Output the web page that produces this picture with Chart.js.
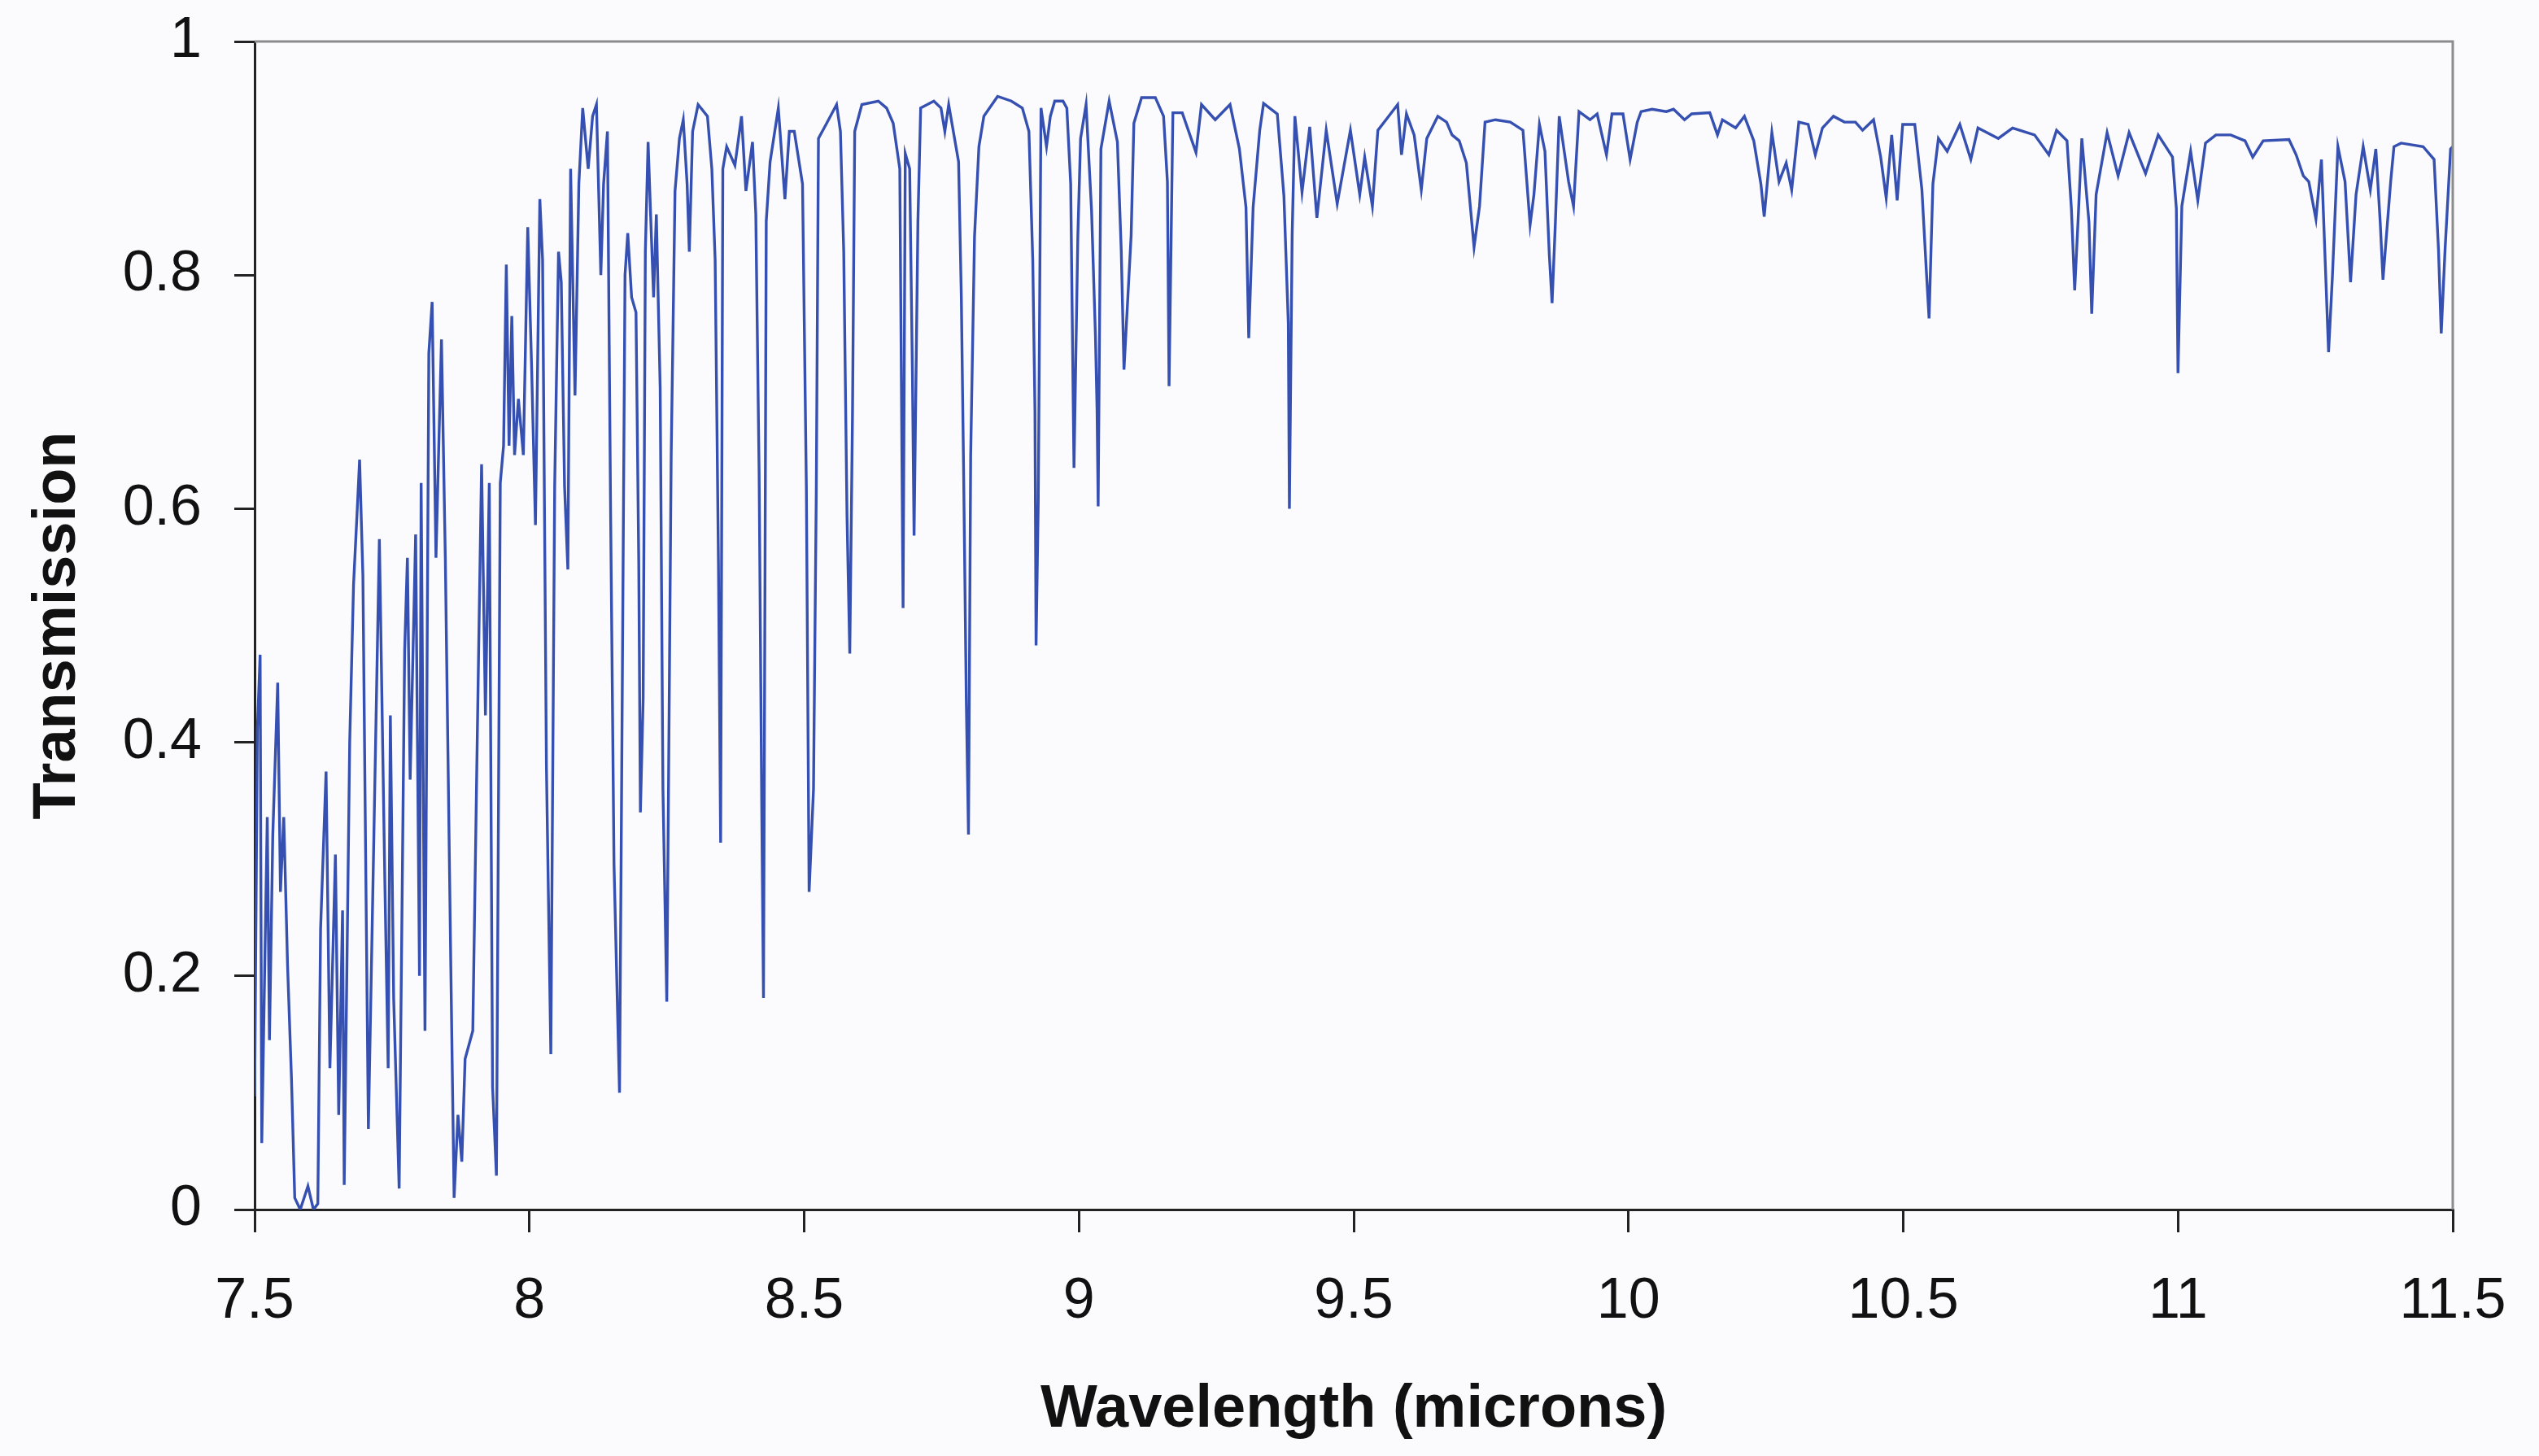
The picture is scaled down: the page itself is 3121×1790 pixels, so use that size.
<!DOCTYPE html>
<html>
<head>
<meta charset="utf-8">
<title>Transmission</title>
<script src="https://cdn.jsdelivr.net/npm/chart.js@4.4.1/dist/chart.umd.min.js"></script>
<style>
    html, body { margin: 0; padding: 0; background: #fbfbfd; }
    #wrap { width: 3121px; height: 1790px; }
</style>
</head>
<body>
<div id="wrap"><canvas id="chart-1" width="3121" height="1790"></canvas></div>
<script>
// wavelength in microns
const wavelength = [
    7.500, 7.505, 7.510, 7.513, 7.523, 7.527, 7.533, 7.542, 7.547, 7.553,
    7.560, 7.567, 7.573, 7.583, 7.597, 7.607, 7.615, 7.620, 7.630, 7.637,
    7.647, 7.653, 7.660, 7.663, 7.673, 7.680, 7.687, 7.691, 7.697, 7.702,
    7.707, 7.717, 7.727, 7.737, 7.743, 7.747, 7.753, 7.763, 7.773, 7.778,
    7.783, 7.793, 7.800, 7.803, 7.810, 7.817, 7.823, 7.830, 7.840, 7.847,
    7.857, 7.863, 7.870, 7.877, 7.883, 7.897, 7.905, 7.913, 7.920, 7.927,
    7.933, 7.940, 7.947, 7.953, 7.958, 7.963, 7.968, 7.973, 7.980, 7.989, 7.997,

    8.004, 8.011, 8.019, 8.024, 8.031, 8.039, 8.046, 8.053, 8.058, 8.064,
    8.070, 8.075, 8.083, 8.090, 8.097, 8.107, 8.115, 8.122, 8.130, 8.135,
    8.142, 8.148, 8.154, 8.164, 8.169, 8.174, 8.179, 8.186, 8.194, 8.199,
    8.202, 8.207, 8.211, 8.216, 8.221, 8.226, 8.231, 8.238, 8.243, 8.250,
    8.258, 8.265, 8.273, 8.280, 8.287, 8.291, 8.297, 8.307, 8.324, 8.332,
    8.338, 8.344, 8.348, 8.352, 8.359, 8.374, 8.386, 8.394, 8.406, 8.412,
    8.418, 8.423, 8.426, 8.431, 8.438, 8.453, 8.465, 8.473, 8.482, 8.497,

    8.504, 8.509, 8.517, 8.522, 8.526, 8.541, 8.559, 8.566, 8.572, 8.578,
    8.583, 8.588, 8.592, 8.605, 8.635, 8.650, 8.662, 8.674, 8.677, 8.680,
    8.684, 8.692, 8.697, 8.700, 8.707, 8.712, 8.736, 8.749, 8.756, 8.763,
    8.781, 8.786, 8.790, 8.795, 8.799, 8.803, 8.810, 8.818, 8.827, 8.852,
    8.877, 8.897, 8.909, 8.916, 8.920, 8.922, 8.926, 8.931, 8.941, 8.948,
    8.956, 8.971, 8.978, 8.985, 8.991, 8.998, 9.003,

    9.013, 9.023, 9.030, 9.033, 9.035, 9.040, 9.055, 9.070, 9.077, 9.082,
    9.095, 9.100, 9.114, 9.139, 9.154, 9.161, 9.164, 9.171, 9.188, 9.213,
    9.223, 9.248, 9.275, 9.292, 9.304, 9.309, 9.317, 9.329, 9.336, 9.361,
    9.373, 9.381, 9.383, 9.388, 9.393, 9.406, 9.420, 9.433, 9.450, 9.470, 9.494,

    9.511, 9.520, 9.534, 9.544, 9.567, 9.580, 9.587, 9.596, 9.610, 9.623,
    9.633, 9.653, 9.669, 9.679, 9.692, 9.705, 9.719, 9.729, 9.739, 9.758,
    9.785, 9.808, 9.821, 9.828, 9.838, 9.848, 9.856, 9.861, 9.867, 9.874,
    9.891, 9.900, 9.910, 9.930, 9.943, 9.960, 9.970, 9.990, 10.003, 10.016,
    10.023, 10.043, 10.069, 10.082, 10.102, 10.115, 10.148, 10.162, 10.171, 10.195,
    10.211, 10.228, 10.241, 10.247, 10.261, 10.274, 10.287, 10.297, 10.310, 10.327,
    10.340, 10.353, 10.373, 10.393, 10.413, 10.426, 10.446, 10.459, 10.469, 10.479,
    10.489, 10.499,

    10.521, 10.534, 10.542, 10.547, 10.554, 10.564, 10.580, 10.603, 10.623, 10.636,
    10.673, 10.699, 10.739, 10.765, 10.779, 10.798, 10.806, 10.812, 10.818, 10.825,
    10.838, 10.843, 10.851, 10.871, 10.891, 10.911, 10.941, 10.964, 10.990, 10.997,
    11.000, 11.007, 11.023, 11.036, 11.050, 11.069, 11.096, 11.122, 11.136, 11.155,
    11.202, 11.215, 11.228, 11.238, 11.251, 11.261, 11.268, 11.274, 11.281, 11.291,
    11.304, 11.314, 11.324, 11.337, 11.350, 11.360, 11.368, 11.373, 11.387, 11.393,
    11.406, 11.446, 11.466, 11.474, 11.479, 11.486, 11.496, 11.500
];

const transmission = [
    0.097, 0.411, 0.475, 0.057, 0.336, 0.145, 0.320, 0.451, 0.272, 0.336,
    0.208, 0.113, 0.010, 0.000, 0.020, 0.000, 0.005, 0.240, 0.375, 0.121,
    0.304, 0.081, 0.256, 0.021, 0.400, 0.535, 0.602, 0.642, 0.543, 0.304,
    0.069, 0.320, 0.574, 0.280, 0.121, 0.423, 0.181, 0.018, 0.479, 0.558,
    0.368, 0.578, 0.200, 0.622, 0.153, 0.733, 0.777, 0.558, 0.745, 0.558,
    0.208, 0.010, 0.081, 0.041, 0.129, 0.153, 0.400, 0.638, 0.423, 0.622,
    0.105, 0.029, 0.622, 0.654, 0.809, 0.654, 0.765, 0.646, 0.694, 0.646, 0.841,

    0.722, 0.586, 0.865, 0.813, 0.379, 0.133, 0.619, 0.820, 0.794, 0.619,
    0.548, 0.891, 0.697, 0.878, 0.943, 0.891, 0.936, 0.946, 0.800, 0.878,
    0.923, 0.586, 0.295, 0.100, 0.444, 0.800, 0.836, 0.781, 0.768, 0.554,
    0.340, 0.437, 0.820, 0.914, 0.846, 0.781, 0.852, 0.703, 0.360, 0.178,
    0.645, 0.872, 0.917, 0.933, 0.878, 0.820, 0.923, 0.946, 0.936, 0.891,
    0.813, 0.554, 0.314, 0.891, 0.910, 0.894, 0.936, 0.872, 0.914, 0.852,
    0.632, 0.334, 0.181, 0.846, 0.897, 0.943, 0.865, 0.923, 0.923, 0.878,

    0.619, 0.272, 0.360, 0.612, 0.917, 0.930, 0.946, 0.923, 0.820, 0.593,
    0.476, 0.683, 0.923, 0.946, 0.949, 0.943, 0.930, 0.891, 0.703, 0.515,
    0.904, 0.891, 0.716, 0.577, 0.846, 0.943, 0.949, 0.943, 0.923, 0.946,
    0.897, 0.781, 0.638, 0.437, 0.321, 0.645, 0.833, 0.910, 0.936, 0.953,
    0.949, 0.943, 0.923, 0.813, 0.684, 0.483, 0.606, 0.943, 0.910, 0.936,
    0.949, 0.949, 0.943, 0.878, 0.635, 0.833, 0.917,

    0.946, 0.855, 0.749, 0.685, 0.602, 0.908, 0.949, 0.914, 0.821, 0.719,
    0.834, 0.930, 0.952, 0.952, 0.936, 0.880, 0.705, 0.939, 0.939, 0.905,
    0.946, 0.933, 0.946, 0.908, 0.858, 0.746, 0.858, 0.924, 0.947, 0.938,
    0.868, 0.759, 0.600, 0.834, 0.936, 0.871, 0.927, 0.849, 0.924, 0.861, 0.924,

    0.869, 0.901, 0.859, 0.924, 0.938, 0.946, 0.903, 0.938, 0.920, 0.873,
    0.917, 0.936, 0.931, 0.920, 0.915, 0.896, 0.824, 0.859, 0.931, 0.933,
    0.931, 0.924, 0.843, 0.869, 0.929, 0.906, 0.817, 0.776, 0.845, 0.936,
    0.880, 0.859, 0.940, 0.933, 0.938, 0.903, 0.938, 0.938, 0.899, 0.931,
    0.940, 0.942, 0.940, 0.942, 0.933, 0.938, 0.939, 0.920, 0.933, 0.926,
    0.936, 0.915, 0.878, 0.850, 0.922, 0.880, 0.896, 0.873, 0.931, 0.929,
    0.903, 0.926, 0.936, 0.931, 0.931, 0.924, 0.933, 0.901, 0.866, 0.920,
    0.864, 0.929,

    0.929, 0.873, 0.804, 0.763, 0.878, 0.917, 0.906, 0.929, 0.899, 0.926,
    0.917, 0.926, 0.920, 0.903, 0.924, 0.915, 0.857, 0.787, 0.845, 0.917,
    0.845, 0.767, 0.869, 0.922, 0.885, 0.922, 0.887, 0.920, 0.901, 0.857,
    0.716, 0.859, 0.906, 0.864, 0.913, 0.920, 0.920, 0.915, 0.901, 0.915,
    0.916, 0.903, 0.885, 0.880, 0.848, 0.899, 0.810, 0.734, 0.799, 0.910,
    0.880, 0.794, 0.869, 0.910, 0.873, 0.908, 0.845, 0.796, 0.880, 0.910,
    0.913, 0.910, 0.899, 0.822, 0.750, 0.822, 0.908, 0.910
];

// axis limits / tick steps
const xRange = [7.5, 11.5];
const xStep = 0.5;
const yRange = [0, 1];
const yStep = 0.2;

document.addEventListener('DOMContentLoaded', (event) => {

    if (wavelength.length !== transmission.length) {
        console.log('length mismatch', wavelength.length, transmission.length);
    }

    const points = wavelength.map((w, i) => ({ x: w, y: transmission[i] }));

    // grey frame on top and right of the plot area
    const frame = {
        id: 'frame',
        afterDraw(chart) {
            const { ctx, chartArea } = chart;
            ctx.save();
            ctx.strokeStyle = '#8c8c8c';
            ctx.lineWidth = 3;
            ctx.beginPath();
            ctx.moveTo(chartArea.left, chartArea.top);
            ctx.lineTo(chartArea.right, chartArea.top);
            ctx.lineTo(chartArea.right, chartArea.bottom);
            ctx.stroke();
            ctx.restore();
        }
    };

    const tickFont = { family: "'Liberation Sans', Arial, sans-serif", size: 70 };
    const titleFont = { family: "'Liberation Sans', Arial, sans-serif", size: 74, weight: 'bold' };
    // 1, 0.8, 7.5, 8 ... like the original (no trailing .0)
    const plainLabel = (value) => String(Math.round(value * 10) / 10);

    const data = {
        datasets: [
            {
                label: 'Transmission',
                data: points,
                borderColor: '#3550b0',
                borderWidth: 3.4,
                pointRadius: 0,
                tension: 0,
                fill: false
            }
        ]
    };

    const config = {
        type: 'line',
        data: data,
        options: {
            responsive: false,
            animation: false,
            devicePixelRatio: 1,
            layout: {
                padding: { left: 0, top: 51, right: 106, bottom: 0 }
            },
            plugins: {
                legend: { display: false },
                tooltip: { enabled: false }
            },
            scales: {
                x: {
                    type: 'linear',
                    min: xRange[0],
                    max: xRange[1],
                    afterFit: (scale) => {
                        scale.height = 303;
                        scale.paddingLeft = 0;
                        scale.paddingRight = 0;
                    },
                    ticks: {
                        stepSize: xStep,
                        color: '#111',
                        font: tickFont,
                        padding: 44,
                        maxRotation: 0,
                        callback: plainLabel
                    },
                    grid: {
                        drawOnChartArea: false,
                        drawTicks: true,
                        tickLength: 28,
                        color: '#222',
                        lineWidth: 3
                    },
                    border: { color: '#222', width: 3 },
                    title: {
                        display: true,
                        text: 'Wavelength (microns)',
                        color: '#111',
                        font: titleFont,
                        padding: { top: 0, bottom: 12 }
                    }
                },
                y: {
                    min: yRange[0],
                    max: yRange[1],
                    afterFit: (scale) => {
                        scale.width = 313;
                        scale.paddingTop = 0;
                        scale.paddingBottom = 0;
                    },
                    ticks: {
                        stepSize: yStep,
                        color: '#111',
                        font: tickFont,
                        padding: 40,
                        callback: plainLabel
                    },
                    grid: {
                        drawOnChartArea: false,
                        drawTicks: true,
                        tickLength: 25,
                        color: '#222',
                        lineWidth: 3
                    },
                    border: { color: '#222', width: 3 },
                    title: {
                        display: true,
                        text: 'Transmission',
                        color: '#111',
                        font: titleFont,
                        padding: { top: 27, bottom: 0 }
                    }
                }
            }
        },
        plugins: [frame]
    };

    const ctx = document.getElementById('chart-1').getContext('2d');
    new Chart(ctx, config);
});
</script>
</body>
</html>
